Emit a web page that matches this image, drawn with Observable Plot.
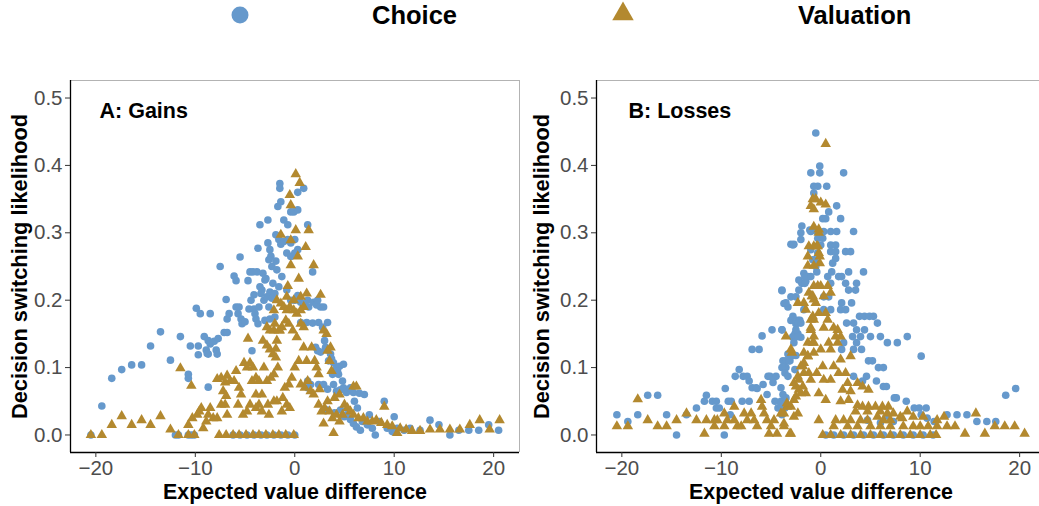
<!DOCTYPE html>
<html><head><meta charset="utf-8">
<script src="https://cdn.jsdelivr.net/npm/d3@7"></script>
<script src="https://cdn.jsdelivr.net/npm/@observablehq/plot@0.6"></script>
<style>
html,body{margin:0;padding:0;background:#fff;overflow:hidden;}
#wrap{position:relative;width:1039px;height:506px;overflow:hidden;font-family:"Liberation Sans",Arial,sans-serif;background:#fff;}
#legend{position:absolute;left:0;top:0;}
#pA{position:absolute;left:0;top:50px;width:520px;height:456px;}
#pB{position:absolute;left:520px;top:50px;width:525px;height:456px;}
#pA svg,#pB svg{max-width:none !important;}
</style></head><body>
<div id="wrap"><svg id="legend" width="1039" height="50"></svg><div id="pA"></div><div id="pB"></div></div>
<script>
const seriesNames = ["Choice", "Valuation"];
const panelLabels = ["A: Gains", "B: Losses"];
const xTitle = "Expected value difference";
const yTitle = "Decision switching likelihood";
const xTicks = [-20, -10, 0, 10, 20];
const yTicks = [0, 0.1, 0.2, 0.3, 0.4, 0.5];

// Panel A (gains) — Choice
const gainsChoice = [
[-20.5,0],[-19.4,0.043],[-18.4,0.084],[-17.4,0.097],[-16.4,0.104],[-15.4,0.104],[-14.5,0.132],[-13.5,0.153],[-12.5,0.111],[-11.5,0.146],[-12,0],[-11.7,0],[-10.7,0.09],[-10.7,0.084],[-10.5,0.132],[-10.7,0],[-10.4,0],[-10.1,0],
[-9.9,0.188],[-9.5,0.18],[-9.7,0.132],[-9.7,0.119],[-9.1,0.146],[-8.9,0.126],[-8.8,0.121],[-8.5,0.18],[-8.7,0.14],[-8.5,0.135],[-8.7,0.12],[-8.1,0.139],[-7.9,0.126],[-7.8,0.12],[-7.7,0.143],[-7.5,0.25],[-8.7,0.071],
[-7.1,0.152],[-6.8,0.152],[-6.9,0.201],[-6.8,0.172],[-6.6,0.18],[-6.1,0.236],[-5.9,0.229],[-5.9,0.19],[-5.6,0.19],[-5.5,0.264],[-5.7,0.18],[-5.4,0.172],[-5.3,0.165],[-5.0,0.168],
[-4.7,0.229],[-4.5,0.242],[-4.2,0.242],[-3.8,0.242],[-4.3,0.125],[-4.1,0.208],[-4.6,0.187],[-4.1,0.187],[-3.9,0.172],[-3.7,0.165],[-3.7,0.277],[-3.5,0.312],[-2.7,0.319],
[-3.5,0.22],[-3.3,0.215],[-3.0,0.23],[-3.4,0.21],[-3.2,0.24],[-2.9,0.232],[-2.2,0.225],[-1.6,0.22],[-1.3,0.235],[-4.4,0.2],[-4.0,0.18],[-3.6,0.19],[-2.6,0.19],
[-2.7,0.285],[-2.5,0.275],[-2.4,0.265],[-2.6,0.26],[-2.3,0.25],[-1.9,0.258],[-1.8,0.245],[-3.1,0.2],[-2.8,0.205],[-2.5,0.212],[-2.0,0.21],[-2.3,0.203],[-3.0,0.17],[-2.5,0.172],[-2.0,0.175],
[-1.9,0.297],[-1.6,0.29],[-1.4,0.283],[-1.1,0.287],[-1.7,0.339],[-1.4,0.346],[-1.5,0.373],[-1.5,0.366],[-1.1,0.319],[-0.7,0.312],[-0.4,0.331],[-0.1,0.331],[0.3,0.334],[0.3,0.36],[0.9,0.366],
[-0.7,0.29],[-0.4,0.285],[0,0.29],[0.3,0.275],[-0.8,0.27],[-0.4,0.265],[0,0.27],[1.3,0.312],[-0.8,0.215],[-0.4,0.2],[0.3,0.207],[0,0.2],[0.6,0.197],[0.9,0.193],[1.4,0.19],[1.3,0.2],[1.9,0.197],[2.2,0.193],[1.8,0.242],[2.3,0.2],[2.6,0.19],[2.9,0.19],
[0.6,0.167],[1.2,0.167],[1.8,0.166],[2.4,0.167],[3.3,0.167],[2.8,0.16],[3.0,0.14],[2.1,0.13],[2.3,0.125],[2.6,0.123],[3.1,0.13],[3.3,0.126],[3.6,0.12],[3.7,0.113],[3.9,0.107],[4.2,0.1],[4.5,0.102],[4.3,0.095],[4.9,0.105],[3.4,0.11],[3.8,0.09],[4.4,0.09],[4.8,0.08],
[1.3,0.08],[1.3,0.07],[1.6,0.075],[2.4,0.075],[2.9,0.075],[3.3,0.068],[3.9,0.075],[4.2,0.065],[4.6,0.067],[4.9,0.07],[5.2,0.063],[5.6,0.07],[5.9,0.063],[6.5,0.062],[7.0,0.06],
[3.3,0.037],[4.0,0.033],[4.6,0.037],[5.2,0.03],[5.6,0.023],[5.9,0.017],[6.0,0.05],[6.3,0.04],[6.2,0.012],[6.6,0.007],[5.0,0.027],[6.8,0.02],[7.3,0.015],[7.5,0.03],[7.8,0.01],[8.1,0],[8.5,0.02],[9.0,0.05],[9.3,0.01],[9.8,0.005],
[10.0,0.027],[10.3,0.01],[11.0,0.007],[11.6,0.01],[12.6,0.007],[13.6,0.022],[14.5,0.015],[15.6,0],[16.5,0.007],[17.5,0.007],[18.5,0.007],[19.5,0.015],[20.5,0.007],
[-6.2,0],[-5.5,0],[-4.8,0],[-4.1,0],[-3.4,0],[-2.8,0],[-2.1,0],[-1.4,0],[-0.7,0],[0,0]
];

// Panel A (gains) — Valuation
const gainsValuation = [
[-20.5,0],[-19.4,0],[-18.4,0.015],[-17.4,0.028],[-16.4,0.015],[-15.4,0.022],[-14.5,0.015],[-13.5,0.028],[-12.5,0.008],[-11.7,0],[-10.7,0],[-10.1,0],[-11.5,0.099],[-10.4,0.073],[-10.7,0.015],[-10.3,0.025],[-9.8,0.03],
[-9.6,0.035],[-9.4,0.04],[-9.2,0.01],[-8.9,0.02],[-8.7,0.03],[-8.5,0.04],[-8.2,0.025],[-7.8,0.025],[-7.8,0.083],[-7.4,0.085],[-6.8,0.088],[-7.0,0.078],[-6.5,0.08],[-7.2,0.065],[-6.9,0.058],[-7.4,0.045],[-7.0,0.045],[-6.8,0.03],
[-7.6,0],[-6.9,0],[-6.2,0],[-5.6,0],[-4.9,0],[-4.2,0],[-3.6,0],[-2.9,0],[-2.2,0],[-1.6,0],[-0.9,0],[-0.1,0],
[-6.1,0.08],[-5.9,0.095],[-5.6,0.07],[-5.4,0.06],[-5.1,0.107],[-4.8,0.1],[-4.5,0.107],[-4.2,0.1],[-4.3,0.08],[-3.9,0.085],[-3.6,0.08],[-3.9,0.06],[-3.3,0.06],[-3.1,0.1],[-2.8,0.08],[-2.4,0.085],[-2.1,0.09],[-1.7,0.1],
[-5.7,0.045],[-5.2,0.03],[-4.8,0.035],[-4.5,0.045],[-3.9,0.04],[-3.6,0.045],[-3.3,0.035],[-2.6,0.03],[-2.7,0.045],[-2.1,0.05],[-1.8,0.05],
[-4.7,0.143],[-3.2,0.14],[-2.8,0.133],[-2.5,0.127],[-2.2,0.12],[-1.9,0.128],[-1.9,0.115],[-1.8,0.14],[-1.5,0.155],[-2.1,0.155],[-2.8,0.16],[-2.5,0.155],[-2.0,0.165],[-1.6,0.155],[-1.3,0.16],[-0.9,0.17],[-0.6,0.165],[-0.2,0.155],[0.2,0.145],[0.6,0.165],[0.9,0.16],
[-2.1,0.185],[-1.4,0.195],[-1.1,0.19],[-0.8,0.185],[-0.5,0.19],[-0.1,0.185],[0.2,0.18],[0.6,0.185],[0.9,0.19],[-1.8,0.2],[-0.8,0.205],[-0.1,0.2],[0.6,0.205],[1.2,0.21],
[-0.7,0.221],[0.4,0.232],[-0.4,0.252],[0.3,0.265],[1.1,0.279],[1.9,0.252],[-1.4,0.297],[-0.4,0.289],[0.1,0.304],[1.4,0.304],[-0.4,0.341],[-0.5,0.356],[0.1,0.387],[0.5,0.374],
[2.6,0.208],[2.9,0.155],[3.2,0.15],[1.7,0.13],[2.0,0.11],[2.2,0.1],[2.4,0.09],[3.3,0.125],[3.5,0.11],[3.7,0.095],[3.6,0.13],
[0.6,0.075],[1.0,0.07],[1.3,0.08],[1.6,0.065],[1.9,0.06],[2.5,0.068],[0.9,0.13],[1.2,0.11],[0.4,0.11],[0.0,0.1],[-0.3,0.085],[-0.6,0.075],[-1.0,0.07],[-1.2,0.055],[-0.8,0.045],[-1.3,0.035],[-0.5,0.04],
[2.4,0.045],[2.7,0.035],[3.0,0.04],[3.3,0.05],[3.5,0.035],[2.9,0.017],[3.9,0.003],[3.8,0.025],[4.2,0.03],[4.5,0.02],[4.8,0.03],[5.0,0.045],[5.3,0.04],[5.6,0.035],[5.9,0.03],[5.9,0.072],[4.5,0.06],[4.0,0.055],[6.2,0.072],
[6.4,0.025],[6.9,0.025],[7.3,0.02],[7.8,0.02],[8.2,0.022],[8.7,0.018],[9.0,0.042],[9.3,0.015],[9.8,0.013],[10.3,0.003],[10.6,0.01],[11.2,0.008],[11.8,0.006],[12.6,0.006],
[13.6,0.008],[14.6,0.008],[15.6,0.008],[16.6,0.008],[17.6,0.015],[18.6,0.022],[19.6,0.008],[20.6,0.022]
];

// Panel B (losses) — Choice
const lossesChoice = [
[-20.5,0.03],[-19.4,0.02],[-18.4,0.03],[-17.4,0.059],[-16.4,0.059],[-15.5,0.03],[-14.5,0],[-13.5,0.03],[-12.5,0.04],[-11.7,0.05],[-11.5,0.059],[-10.9,0.05],[-10.5,0.05],[-10.5,0.04],[-10.2,0.04],[-9.7,0],[-9.6,0.069],
[-9.1,0.03],[-9.0,0.05],[-9.3,0.05],[-8.6,0.087],[-8.2,0.097],[-7.8,0.087],[-7.4,0.087],[-7.9,0.05],[-7.2,0.05],[-7.2,0.08],[-6.9,0.07],[-6.5,0.07],[-6.9,0.127],[-6.4,0.069],[-6.2,0.127],[-5.9,0.147],
[-5.8,0.075],[-5.3,0.087],[-5.1,0.087],[-4.5,0.087],[-4.8,0.078],[-5.4,0.06],[-4.9,0.156],[-4.6,0.05],[-4.3,0.04],[-4.0,0.05],[-3.7,0.05],[-3.9,0.03],[-3.9,0.214],[-3.9,0.156],[-3.7,0.195],
[-3.8,0.11],[-3.5,0.1],[-3.3,0.12],[-3.1,0.11],[-3.0,0.12],[-3.3,0.19],[-3.0,0.17],[-2.8,0.145],[-2.6,0.15],[-2.5,0.165],[-2.3,0.17],[-2.3,0.15],[-2.1,0.17],[-2.0,0.145],
[-3.0,0.283],[-2.7,0.283],[-2.0,0.29],[-2.0,0.3],[-1.9,0.31],[-2.2,0.23],[-1.9,0.225],[-1.7,0.24],[-1.3,0.235],[-1.5,0.228],[-1.1,0.304],[-1.0,0.275],[-0.8,0.26],[-0.5,0.25],[-0.3,0.27],
[-1.0,0.389],[-0.7,0.369],[-0.7,0.359],[-0.5,0.448],[-0.3,0.369],[-0.1,0.399],[-0.1,0.389],[0.6,0.369],[0.8,0.331],[1.6,0.34],[2.3,0.389],[0.2,0.321],[0.5,0.321],[2.0,0.321],
[-1.0,0.302],[-0.4,0.302],[0.3,0.302],[1.0,0.302],[1.6,0.302],[3.3,0.302],[-0.3,0.292],[0.2,0.292],[-2.8,0.282],[0.0,0.282],[1.0,0.282],[1.5,0.282],[1.0,0.272],[1.5,0.272],[2.5,0.272],[3.0,0.272],
[-0.6,0.26],[1.2,0.255],[1.5,0.262],[2.8,0.242],[4.3,0.242],[-0.4,0.242],[1.1,0.242],[-1.6,0.235],[-1.0,0.235],[0.7,0.235],[1.8,0.235],[2.1,0.235],[-1.6,0.225],[1.0,0.225],[2.5,0.225],[3.6,0.225],
[-3.9,0.215],[-2.2,0.215],[2.8,0.215],[3.5,0.215],[-3.0,0.205],[-2.5,0.205],[0.3,0.205],[0.8,0.205],[-3.5,0.196],[2.1,0.196],[3.1,0.196],[-1.7,0.186],[0.3,0.186],[1.0,0.186],[2.0,0.186],[2.5,0.186],
[-2.8,0.176],[3.9,0.176],[4.4,0.176],[4.9,0.176],[5.3,0.176],[-2.3,0.166],[-2.0,0.166],[2.6,0.166],[3.3,0.166],[5.7,0.166],[-3.9,0.156],[-2.5,0.156],[3.6,0.156],[4.4,0.156],
[-2.8,0.146],[-2.3,0.146],[3.2,0.146],[4.0,0.146],[5.0,0.146],[6.0,0.146],[-2.7,0.137],[2.3,0.137],[3.6,0.137],[6.7,0.137],[7.7,0.137],[8.7,0.146],[2.1,0.127],[3.3,0.127],[4.1,0.127],[10.1,0.117],
[-3.5,0.11],[-3.2,0.11],[-2.8,0.118],[-2.5,0.118],[4.8,0.11],[5.2,0.11],[5.8,0.1],[6.3,0.1],[-3.9,0.1],[-3.6,0.092],[-3.3,0.087],[-2.6,0.097],[3.3,0.087],[4.6,0.087],[4.2,0.08],[5.6,0.08],[6.3,0.072],[6.6,0.072],
[-4.0,0.07],[-3.8,0.06],[-3.5,0.055],[-4.0,0.045],[-3.6,0.04],[7.4,0.055],[7.6,0.055],[8.6,0.05],[9.4,0.04],[9.9,0.04],[10.6,0.04],[12.7,0.03],[13.7,0.03],[14.7,0.03],[15.7,0.02],[16.7,0.02],[17.6,0.02],[18.6,0.059],[19.6,0.069],
[10.1,0.03],[10.7,0.025],[11.4,0.02],[4.7,0.022],[6.0,0.018],[6.7,0.028],[7.3,0.02],
[0.5,0],[1.3,0],[2.3,0],[3.3,0],[4.3,0],[5.3,0],[6.3,0],[7.3,0],[8.3,0],[9.3,0],[10.3,0],[11.3,0]
];

// Panel B (losses) — Valuation
const lossesValuation = [
[-20.5,0.013],[-19.4,0.013],[-18.4,0.053],[-17.4,0.022],[-16.4,0.013],[-15.5,0.013],[-14.5,0.022],[-13.5,0.032],[-12.5,0.022],[-11.7,0.002],[-11.5,0.022],[-10.7,0.022],[-10.7,0.013],[-10.4,0.022],[-9.7,0.032],[-9.7,0.013],
[-9.4,0.022],[-8.7,0.042],[-8.7,0.022],[-8.4,0.013],[-8.0,0.013],[-7.7,0.032],[-7.4,0.022],[-7.0,0.032],[-6.7,0.022],[-6.4,0.013],[-6.0,0.052],[-5.9,0.042],[-5.7,0.032],[-5.4,0.022],[-5.2,0.002],[-5.0,0.013],
[-4.7,0.022],[-4.4,0.002],[-4.0,0.032],[-3.7,0.013],[-3.5,0.146],[-3.4,0.042],[-3.1,0.002],[-3.0,0.042],[-2.9,0.122],[-2.7,0.052],[-2.5,0.072],[-2.3,0.032],[-2.2,0.082],[-2.0,0.062],[-1.8,0.102],[-1.8,0.072],
[-1.7,0.092],[-1.7,0.122],[-1.5,0.062],[-1.3,0.117],[-1.2,0.092],[-1.0,0.082],[-1.0,0.156],[-1.0,0.171],[-0.8,0.137],[-0.7,0.146],[-0.7,0.171],[-0.5,0.196],[-0.3,0.221],[-0.2,0.181],[-0.7,0.122],[-0.4,0.092],
[-0.2,0.062],[-0.2,0.022],[-0.7,0.201],[-0.9,0.206],[-1.3,0.251],[-0.7,0.251],[-0.4,0.28],[-0.7,0.28],[-0.2,0.27],[-0.2,0.305],[-0.7,0.335],[-0.5,0.35],[-0.2,0.3],
[0.5,0.432],[-0.8,0.35],[-1.0,0.34],[0.0,0.345],[0.5,0.342],[-0.7,0.309],[-1.2,0.28],[-0.3,0.28],[-1.3,0.265],[-0.1,0.265],[-0.1,0.255],[-0.7,0.221],[0.0,0.221],[0.7,0.221],[-1.2,0.211],[-0.8,0.206],[0.3,0.206],[1.0,0.211],
[-1.7,0.196],[-2.3,0.196],[-1.5,0.186],[-0.8,0.176],[0.5,0.181],[0.7,0.171],[-1.0,0.159],[0.3,0.159],[1.3,0.159],[1.7,0.156],[1.5,0.146],[2.0,0.146],[0.8,0.137],[1.7,0.137],[-1.3,0.137],[-0.7,0.137],
[0.0,0.127],[1.0,0.127],[-1.3,0.117],[-1.7,0.107],[-3.0,0.127],[-2.0,0.102],[-2.3,0.087],[-2.7,0.077],[-2.2,0.067],[-2.5,0.057],[-3.4,0.047],[-3.7,0.032],[-2.7,0.027],[-3.7,0.017],[-3.0,0.002],
[0.2,0.102],[1.3,0.102],[2.0,0.112],[3.0,0.117],[1.8,0.092],[2.5,0.092],[2.7,0.077],[3.7,0.077],[4.2,0.072],[4.8,0.067],[0.3,0.082],[1.0,0.082],[2.2,0.067],[3.0,0.065],
[0.5,0.052],[2.0,0.05],[2.8,0.052],[3.7,0.044],[4.2,0.042],[4.8,0.042],[5.5,0.042],[6.2,0.042],[6.8,0.042],[3.5,0.035],[4.7,0.035],[6.0,0.035],[6.7,0.032],[7.3,0.032],[8.0,0.027],[8.7,0.035],[9.3,0.027],[10.3,0.027],[11.7,0.022],
[1.5,0.022],[2.3,0.022],[3.0,0.022],[4.0,0.022],[4.7,0.022],[5.7,0.027],[6.3,0.022],[7.0,0.022],[8.2,0.025],[12.4,0.027],[1.3,0.013],[2.7,0.013],[3.7,0.013],[5.0,0.013],[6.0,0.013],[7.0,0.013],[8.3,0.013],[9.3,0.013],
[10.0,0.013],[10.8,0.013],[11.7,0.013],[12.7,0.013],[13.5,0.013],[14.5,0.002],[15.6,0.032],[16.5,0.002],[17.5,0.013],[18.5,0.013],[19.5,0.013],[20.5,0.002],
[0.2,0],[1.0,0],[2.0,0],[3.0,0],[4.0,0],[5.0,0],[6.0,0],[7.0,0],[8.0,0],[9.0,0],[10.0,0],[11.0,0],[11.6,0]
];

const seriesColors = ["#6699CC", "#B3892F"];
const seriesSymbols = ["circle", "triangle"];

const X_DOMAIN = [-22.55, 22.6];
const Y_DOMAIN = [-0.026, 0.526];
const FONT = '"Liberation Sans", Arial, Helvetica, sans-serif';

function toRows(arr) { return arr.map(([x, y]) => ({x, y})); }

function panel({choice, valuation, label, width, marginLeft, marginRight, rightBorder, labelDx, yTitleDx}) {
  return Plot.plot({
    width, height: 456,
    marginLeft, marginRight, marginTop: 30, marginBottom: 54,
    style: {fontFamily: FONT, fontSize: "20.5px", background: "transparent", overflow: "visible", maxWidth: "none"},
    x: {domain: X_DOMAIN},
    y: {domain: Y_DOMAIN},
    marks: [
      Plot.ruleY([Y_DOMAIN[1]], {stroke: "#b3b3b3", strokeWidth: 1}),
      rightBorder ? Plot.ruleX([X_DOMAIN[1]], {stroke: "#b3b3b3", strokeWidth: 1}) : null,
      Plot.dot(toRows(choice), {x: "x", y: "y", r: 3.8, fill: seriesColors[0], symbol: seriesSymbols[0]}),
      Plot.dot(toRows(valuation), {x: "x", y: "y", r: 3.9, fill: seriesColors[1], symbol: seriesSymbols[1]}),
      Plot.ruleX([X_DOMAIN[0]], {stroke: "#000", strokeWidth: 1.3}),
      Plot.ruleY([Y_DOMAIN[0]], {stroke: "#000", strokeWidth: 1.3}),
      Plot.axisX({ticks: xTicks, tickSize: 5, tickPadding: 3, label: null, color: "#4d4d4d", stroke: "#333", fontSize: 20.5}),
      Plot.axisY({ticks: yTicks, tickFormat: d3.format(".1f"), tickSize: 5, tickPadding: 3, label: null, color: "#4d4d4d", stroke: "#333", fontSize: 20.5}),
      Plot.text([label], {text: d => d, frameAnchor: "top-left", textAnchor: "start", lineAnchor: "middle", dx: labelDx, dy: 31, fontSize: 21.5, fontWeight: "bold", fill: "#000"}),
      Plot.text([xTitle], {text: d => d, frameAnchor: "bottom", textAnchor: "middle", lineAnchor: "middle", dy: 40, fontSize: 21.4, fontWeight: "bold", fill: "#000"}),
      Plot.text([yTitle], {text: d => d, frameAnchor: "left", textAnchor: "middle", lineAnchor: "middle", dx: yTitleDx, rotate: -90, fontSize: 21.8, fontWeight: "bold", fill: "#000"})
    ]
  });
}

document.getElementById("pA").append(panel({
  choice: gainsChoice, valuation: gainsValuation, label: panelLabels[0],
  width: 520, marginLeft: 70, marginRight: 1, rightBorder: true, labelDx: 29, yTitleDx: -50
}));
document.getElementById("pB").append(panel({
  choice: lossesChoice, valuation: lossesValuation, label: panelLabels[1],
  width: 525, marginLeft: 76, marginRight: 0, rightBorder: false, labelDx: 32, yTitleDx: -54
}));

// Legend
const leg = d3.select("#legend");
const legendItems = [
  {name: seriesNames[0], sx: 240, tx: 372},
  {name: seriesNames[1], sx: 623, tx: 798}
];
legendItems.forEach((it, i) => {
  const sym = d3.symbol(i === 0 ? d3.symbolCircle : d3.symbolTriangle, i === 0 ? Math.PI * 8.5 * 8.5 : 200)();
  leg.append("path").attr("d", sym).attr("transform", `translate(${it.sx},${i === 0 ? 15 : 14})`).attr("fill", seriesColors[i]);
  leg.append("text").attr("x", it.tx).attr("y", 24).attr("font-family", FONT).attr("font-size", 25.5).attr("font-weight", "bold").attr("fill", "#000").text(it.name);
});
</script>
</body></html>
